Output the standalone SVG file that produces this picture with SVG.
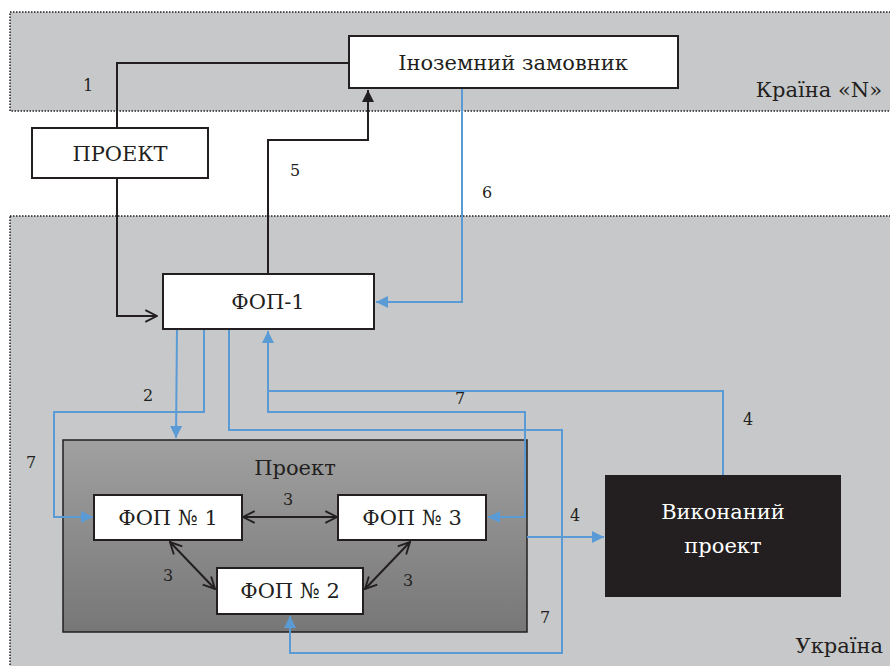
<svg xmlns="http://www.w3.org/2000/svg" width="890" height="666" viewBox="0 0 890 666">
<style>
.reg{fill:#c7c8ca;stroke:#231f20;stroke-width:1.5;stroke-dasharray:1.5 1.5}
.box{fill:#fff;stroke:#231f20;stroke-width:2}
.t{fill:#231f20;font-family:"DejaVu Serif",serif;font-size:21px}
.lb{fill:#231f20;font-family:"DejaVu Serif",serif;font-size:16px}
.k{fill:none;stroke:#231f20;stroke-width:2}
.b{fill:none;stroke:#5b9bd5;stroke-width:2}
</style>
<defs>
<linearGradient id="g" x1="0" y1="0" x2="0" y2="1">
<stop offset="0" stop-color="#a0a0a0"/>
<stop offset="1" stop-color="#777"/>
</linearGradient>
<marker id="bb" viewBox="0 0 10 10" refX="10" refY="5" markerWidth="6" markerHeight="6" orient="auto">
<path d="M0,0 L10,5 L0,10 z" fill="#5b9bd5"/>
</marker>
<marker id="kf" viewBox="0 0 10 10" refX="10" refY="5" markerWidth="6" markerHeight="6" orient="auto">
<path d="M0,0 L10,5 L0,10 z" fill="#231f20"/>
</marker>
<marker id="ko" viewBox="0 0 12 12" refX="11" refY="6" markerWidth="14" markerHeight="14" orient="auto-start-reverse" markerUnits="userSpaceOnUse">
<path d="M1,1 L11,6 L1,11" fill="none" stroke="#231f20" stroke-width="1.6"/>
</marker>
</defs>

<g id="region-n">
<rect class="reg" x="10" y="12" width="885" height="99"/>
<text class="t" x="882" y="97" text-anchor="end">Країна «N»</text>
</g>
<g id="region-ua">
<rect class="reg" x="10" y="216" width="885" height="460"/>
<text class="t" x="883" y="653" text-anchor="end">Україна</text>
</g>

<g id="proekt-area">
<rect x="63" y="440" width="464" height="192" fill="url(#g)" stroke="#231f20" stroke-width="1.5"/>
<text class="t" x="295" y="475" text-anchor="middle">Проект</text>
</g>

<g id="connectors">
<polyline class="k" points="117,128 117,63 349,63"/>
<polyline class="k" points="117,178 117,316 157,316" marker-end="url(#ko)"/>
<polyline class="k" points="268,274 268,140 368,140 368,90" marker-end="url(#kf)"/>
<polyline class="b" points="462,88 462,302 376,302" marker-end="url(#bb)"/>
<polyline class="b" points="177,329 176,438" marker-end="url(#bb)"/>
<polyline class="b" points="204,329 204,412 54,412 54,517 93,517" marker-end="url(#bb)"/>
<polyline class="b" points="229,329 229,430 562,430 562,653 290,653 290,616" marker-end="url(#bb)"/>
<polyline class="b" points="723,475 723,391 268,391 268,331" marker-end="url(#bb)"/>
<polyline class="b" points="268,391 268,412 525,412 525,517 488,517" marker-end="url(#bb)"/>
<polyline class="b" points="527,537 604,537" marker-end="url(#bb)"/>
<line class="k" x1="243" y1="517" x2="337" y2="517" marker-start="url(#ko)" marker-end="url(#ko)"/>
<line class="k" x1="170" y1="542" x2="215" y2="589" marker-start="url(#ko)" marker-end="url(#ko)"/>
<line class="k" x1="410" y1="542" x2="365" y2="589" marker-start="url(#ko)" marker-end="url(#ko)"/>
<text class="lb" x="88" y="91" text-anchor="middle">1</text>
<text class="lb" x="295" y="176" text-anchor="middle">5</text>
<text class="lb" x="487" y="198" text-anchor="middle">6</text>
<text class="lb" x="148" y="401" text-anchor="middle">2</text>
<text class="lb" x="460" y="404" text-anchor="middle">7</text>
<text class="lb" x="748" y="425" text-anchor="middle">4</text>
<text class="lb" x="31" y="468" text-anchor="middle">7</text>
<text class="lb" x="288" y="505" text-anchor="middle">3</text>
<text class="lb" x="575" y="521" text-anchor="middle">4</text>
<text class="lb" x="168" y="581" text-anchor="middle">3</text>
<text class="lb" x="408" y="586" text-anchor="middle">3</text>
<text class="lb" x="545" y="623" text-anchor="middle">7</text>
</g>

<g id="inozemnyi">
<rect class="box" x="349" y="36" width="329" height="52"/>
<text class="t" x="513" y="70" text-anchor="middle">Іноземний замовник</text>
</g>
<g id="proekt-top">
<rect class="box" x="32" y="128" width="176" height="50"/>
<text class="t" x="120" y="161" text-anchor="middle">ПРОЕКТ</text>
</g>
<g id="fop-1">
<rect class="box" x="163" y="274" width="211" height="55"/>
<text class="t" x="268" y="309" text-anchor="middle">ФОП-1</text>
</g>
<g id="fop-n1">
<rect class="box" x="94" y="495" width="148" height="45"/>
<text class="t" x="168" y="525" text-anchor="middle">ФОП № 1</text>
</g>
<g id="fop-n3">
<rect class="box" x="338" y="495" width="148" height="45"/>
<text class="t" x="412" y="525" text-anchor="middle">ФОП № 3</text>
</g>
<g id="fop-n2">
<rect class="box" x="217" y="568" width="146" height="46"/>
<text class="t" x="290" y="598" text-anchor="middle">ФОП № 2</text>
</g>
<g id="vykonanyi">
<rect x="605" y="475" width="236" height="122" fill="#231f20"/>
<text class="t" x="723" y="519" text-anchor="middle" style="fill:#fff">Виконаний</text>
<text class="t" x="723" y="553" text-anchor="middle" style="fill:#fff">проект</text>
</g>
</svg>
